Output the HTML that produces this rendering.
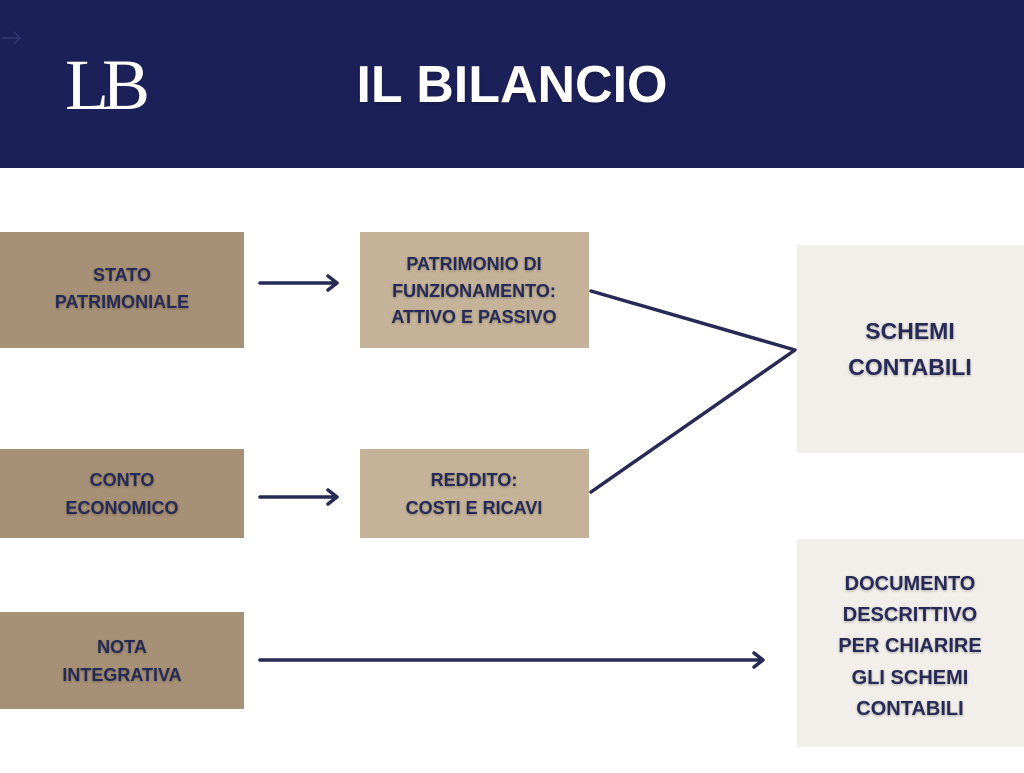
<!DOCTYPE html>
<html><head><meta charset="utf-8"><style>
body{margin:0;width:1024px;height:768px;overflow:hidden;background:#fff;font-family:"Liberation Sans",sans-serif}
.t{font-family:"Liberation Sans",sans-serif;font-weight:bold;fill:#262a55;font-size:18px;text-anchor:middle}
</style></head><body>
<svg width="1024" height="768" xmlns="http://www.w3.org/2000/svg">
<defs><filter id="s"><feDropShadow dx="0" dy="1" stdDeviation="1.2" flood-color="#000" flood-opacity="0.3"/></filter></defs>
<rect x="0" y="0" width="1024" height="168" fill="#1c2058"/>
<path d="M2 38 H20 M14 32 L20 38 L14 44" stroke="#2e3470" stroke-width="2" fill="none"/>
<text x="104" y="109" font-family="Liberation Serif,serif" font-size="72" fill="#fff" text-anchor="middle" letter-spacing="-7">LB</text>
<text x="512" y="102" font-family="Liberation Sans,sans-serif" font-weight="bold" font-size="52" fill="#fff" text-anchor="middle" filter="url(#s)">IL BILANCIO</text>
<g fill="#a69176">
<rect x="0" y="232" width="244" height="116"/>
<rect x="0" y="449" width="244" height="89"/>
<rect x="0" y="612" width="244" height="97"/>
</g>
<g fill="#c4b399">
<rect x="360" y="232" width="229" height="116"/>
<rect x="360" y="449" width="229" height="89"/>
</g>
<g fill="#f2eeea">
<rect x="797" y="245" width="227" height="208"/>
<rect x="797" y="539" width="227" height="208"/>
</g>
<g stroke="#262a55" stroke-width="3.5" fill="none" stroke-linecap="round" stroke-linejoin="round">
<path d="M260 283 H336 M328 276 L337 283 L328 290"/>
<path d="M260 497 H336 M328 490 L337 497 L328 504"/>
<path d="M260 660 H762 M754 653 L763 660 L754 667"/>
<path d="M591 291 L795 350 L591 492"/>
</g>
<g class="t" filter="url(#s)">
<text x="122" y="281">STATO</text><text x="122" y="308">PATRIMONIALE</text>
<text x="122" y="486">CONTO</text><text x="122" y="514">ECONOMICO</text>
<text x="122" y="653">NOTA</text><text x="122" y="681">INTEGRATIVA</text>
<text x="474" y="270">PATRIMONIO DI</text><text x="474" y="297">FUNZIONAMENTO:</text><text x="474" y="323">ATTIVO E PASSIVO</text>
<text x="474" y="486">REDDITO:</text><text x="474" y="514">COSTI E RICAVI</text>
<text x="910" y="339" font-size="23">SCHEMI</text><text x="910" y="375" font-size="23">CONTABILI</text>
<text x="910" y="590" font-size="20">DOCUMENTO</text><text x="910" y="621" font-size="20">DESCRITTIVO</text>
<text x="910" y="652" font-size="20">PER CHIARIRE</text><text x="910" y="684" font-size="20">GLI SCHEMI</text>
<text x="910" y="715" font-size="20">CONTABILI</text>
</g>
</svg>
</body></html>
